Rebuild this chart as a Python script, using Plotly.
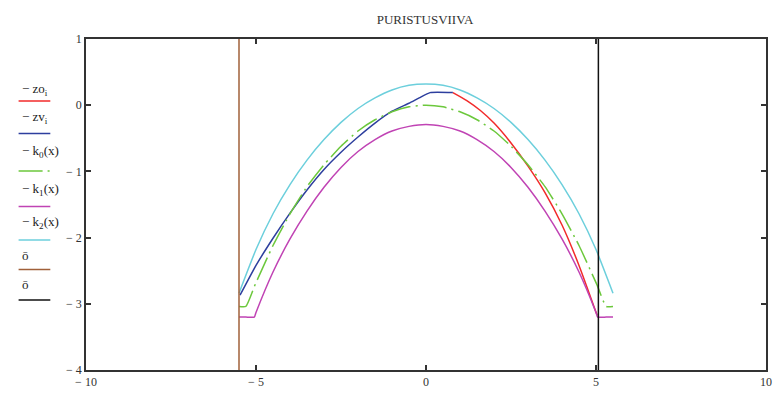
import plotly.graph_objects as go

# ---- data ----------------------------------------------------------------
# zv_i : measured compression line, left part
zv_x = [-5.47, -5.0, -4.5, -4.0, -3.5, -3.0, -2.5, -2.0, -1.5, -1.0, -0.5, -0.2, 0.12, 0.79]
zv_y = [-2.87, -2.42, -2.01, -1.63, -1.28, -0.97, -0.71, -0.48, -0.27, -0.09, 0.03, 0.11, 0.19, 0.19]

# zo_i : measured compression line, right part
zo_x = [0.79, 1.2, 1.6, 2.0, 2.5, 3.0, 3.5, 4.0, 4.5, 5.03]
zo_y = [0.19, 0.07, -0.08, -0.27, -0.57, -0.92, -1.32, -1.81, -2.42, -3.17]

# k0(x), k1(x) : reference curves with flat ends
k_x = [-5.5, -5.3, -5.05, -5.0, -4.5, -4.0, -3.5, -3.0, -2.5, -2.0, -1.5, -1.0, -0.5, 0.0,
       0.5, 1.0, 1.5, 2.0, 2.5, 3.0, 3.5, 4.0, 4.5, 5.0, 5.05, 5.3, 5.5]
k0_y = [-3.04, -3.04, -2.74, -2.68, -2.12, -1.64, -1.23, -0.9, -0.62, -0.39, -0.22, -0.1, -0.025, 0.0,
        -0.025, -0.1, -0.22, -0.39, -0.62, -0.9, -1.23, -1.64, -2.12, -2.68, -2.74, -3.04, -3.04]
k1_y = [-3.2, -3.2, -3.2, -3.13, -2.52, -2.02, -1.6, -1.24, -0.94, -0.7, -0.52, -0.39, -0.32, -0.29,
        -0.32, -0.39, -0.52, -0.7, -0.94, -1.24, -1.6, -2.02, -2.52, -3.13, -3.2, -3.2, -3.2]

# k2(x) : upper reference curve
k2_x = [-5.5, -5.0, -4.5, -4.0, -3.5, -3.0, -2.5, -2.0, -1.5, -1.0, -0.5, 0.0,
        0.5, 1.0, 1.5, 2.0, 2.5, 3.0, 3.5, 4.0, 4.5, 5.0, 5.5]
k2_y = [-2.84, -2.18, -1.64, -1.2, -0.83, -0.52, -0.26, -0.05, 0.11, 0.23, 0.3, 0.32,
        0.3, 0.23, 0.11, -0.05, -0.26, -0.52, -0.83, -1.2, -1.64, -2.18, -2.84]

# ō : the two vertical limit lines
o1_x = [-5.5, -5.5]
o2_x = [5.07, 5.07]
o_y = [-4, 1]

x_ticks = [-10, -5, 0, 5, 10]
x_labels = ["\u2212 10", "\u2212 5", "0", "5", "10"]
y_ticks = [-4, -3, -2, -1, 0, 1]
y_labels = ["\u2212 4", "\u2212 3", "\u2212 2", "\u2212 1", "0", "1"]

legend_labels = ["\u2212 zo<sub>i</sub>", "\u2212 zv<sub>i</sub>", "\u2212 k<sub>0</sub>(x)",
                 "\u2212 k<sub>1</sub>(x)", "\u2212 k<sub>2</sub>(x)", "\u014d", "\u014d"]

# ---- styles --------------------------------------------------------------
RED = "#f22a2a"
BLUE = "#2d3f9e"
GREEN = "#6cc83c"
MAGENTA = "#c043b4"
CYAN = "#6ccfdc"
BROWN = "#a0603a"
BLACK = "#111111"
FONT = "Liberation Serif"
K0_DASH = "24px,5px,2px,5px"

series = [
    (zo_x, zo_y, RED, "solid", "spline"),
    (zv_x, zv_y, BLUE, "solid", "spline"),
    (k_x, k0_y, GREEN, K0_DASH, "spline"),
    (k_x, k1_y, MAGENTA, "solid", "spline"),
    (k2_x, k2_y, CYAN, "solid", "spline"),
    (o1_x, o_y, BROWN, "solid", "linear"),
    (o2_x, o_y, BLACK, "solid", "linear"),
]

fig = go.Figure()
for xs, ys, col, dash, shape in series:
    fig.add_trace(go.Scatter(x=xs, y=ys, mode="lines", showlegend=False,
                             line=dict(color=col, width=1.5, dash=dash, shape=shape,
                                       smoothing=0.5 if shape == "spline" else None)))

# ---- side legend: label text above a short line sample ----------------------
L, R, T, B = 86, 772, 39, 375
W, H = R - L, B - T
def px(xp):
    return (xp - L) / W
def py(yp):
    return (B - yp) / H

text_rows = [90, 119, 153, 192, 225, 259, 288]
line_rows = [102, 135, 173, 209, 243, 273, 304]
annotations = []
shapes = []
for lab, ty, ly, (_, _, col, dash, _) in zip(legend_labels, text_rows, line_rows, series):
    annotations.append(dict(text=lab, xref="paper", yref="paper", x=px(19), y=py(ty),
                            xanchor="left", yanchor="middle", showarrow=False,
                            font=dict(family=FONT, size=13, color="#222")))
    shapes.append(dict(type="line", xref="paper", yref="paper", x0=px(18), x1=px(50),
                       y0=py(ly), y1=py(ly),
                       line=dict(color=col, width=1.5, dash=dash)))

axis_common = dict(showgrid=False, zeroline=False, showline=True, linecolor="#333",
                   linewidth=1.5, mirror="ticks", ticks="inside", ticklen=5,
                   tickwidth=1.5, tickcolor="#333",
                   tickfont=dict(family=FONT, size=12, color="#333"))

fig.update_layout(
    width=783, height=400,
    margin=dict(l=L, r=783 - R, t=T, b=400 - B),
    paper_bgcolor="white", plot_bgcolor="white",
    title=dict(text="PURISTUSVIIVA", x=px(428), y=1 - 19 / 400, xanchor="center",
               yanchor="middle", xref="paper",
               font=dict(family=FONT, size=13, color="#333")),
    xaxis=dict(range=[-10, 10], tickvals=x_ticks, ticktext=x_labels, **axis_common),
    yaxis=dict(range=[-4, 1], tickvals=y_ticks, ticktext=y_labels, **axis_common),
    annotations=annotations,
    shapes=shapes,
)

fig.write_html("out.html")
